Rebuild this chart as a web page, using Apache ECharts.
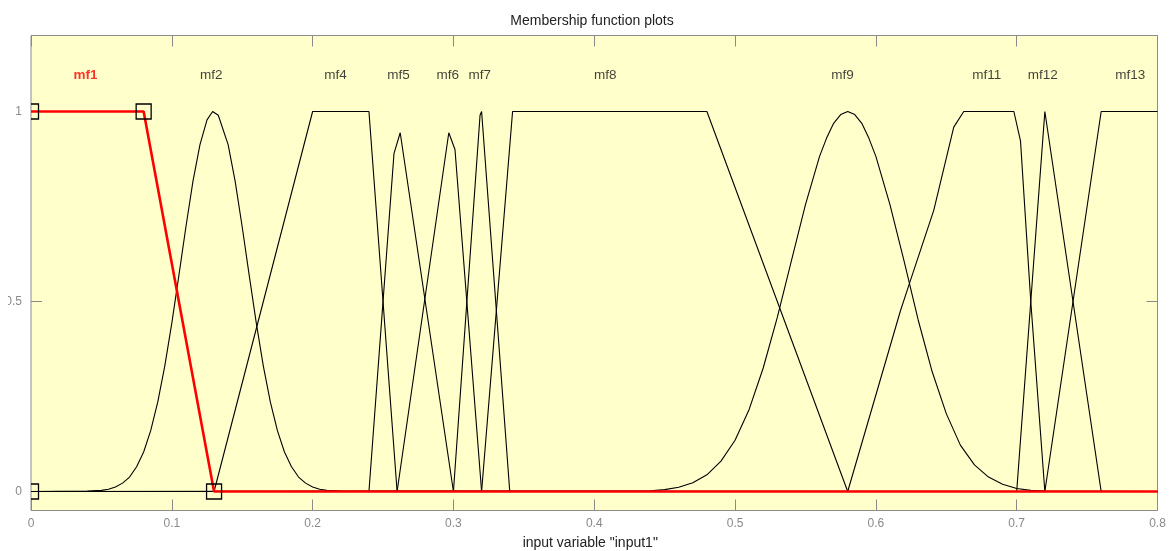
<!DOCTYPE html>
<html><head><meta charset="utf-8">
<script src="https://cdn.jsdelivr.net/npm/echarts@6/dist/echarts.min.js"></script>
<style>html,body{margin:0;padding:0;background:#fff}#c{width:1171px;height:551px}</style>
</head><body><div id="c"></div>
<script>
// ---- data ----
const xTicks = [0, 0.1, 0.2, 0.3, 0.4, 0.5, 0.6, 0.7, 0.8];
const yTicks = [0, 0.5, 1];

const mf1 = [[0, 1], [0.08, 1], [0.13, 0], [0.8, 0]];
const mf1Params = [[0, 0], [0, 1], [0.08, 1], [0.13, 0]];

const mf2 = [[0, 0], [0.04, 0.001], [0.05, 0.003], [0.055, 0.006], [0.06, 0.012], [0.065, 0.022],
  [0.07, 0.038], [0.075, 0.065], [0.08, 0.104], [0.085, 0.16], [0.09, 0.235], [0.095, 0.33],
  [0.1, 0.443], [0.105, 0.568], [0.11, 0.696], [0.115, 0.816], [0.12, 0.913], [0.125, 0.978],
  [0.129, 1], [0.133, 0.99], [0.14, 0.913], [0.145, 0.816], [0.15, 0.696], [0.155, 0.568],
  [0.16, 0.443], [0.165, 0.33], [0.17, 0.235], [0.175, 0.16], [0.18, 0.104], [0.185, 0.065],
  [0.19, 0.038], [0.195, 0.022], [0.2, 0.012], [0.205, 0.006], [0.21, 0.003], [0.22, 0.001], [0.8, 0]];
const mf4 = [[0, 0], [0.13, 0], [0.2, 1], [0.24, 1], [0.26, 0], [0.8, 0]];
const mf5 = [[0, 0], [0.24, 0], [0.2578, 0.89], [0.2622, 0.944], [0.3, 0], [0.8, 0]];
const mf6 = [[0, 0], [0.26, 0], [0.2967, 0.944], [0.3011, 0.9], [0.32, 0], [0.8, 0]];
const mf7 = [[0, 0], [0.3, 0], [0.3189, 0.99], [0.32, 1], [0.34, 0], [0.8, 0]];
const mf8 = [[0, 0], [0.32, 0], [0.342, 1], [0.48, 1], [0.58, 0], [0.8, 0]];
const mf9 = [[0, 0], [0.44, 0.002], [0.45, 0.005], [0.46, 0.011], [0.47, 0.023], [0.48, 0.044],
  [0.49, 0.08], [0.5, 0.135], [0.51, 0.216], [0.52, 0.325], [0.53, 0.458], [0.54, 0.607],
  [0.55, 0.755], [0.56, 0.882], [0.565, 0.93], [0.57, 0.969], [0.575, 0.992], [0.58, 1],
  [0.585, 0.992], [0.59, 0.969], [0.595, 0.93], [0.6, 0.882],
  [0.61, 0.755], [0.62, 0.607], [0.63, 0.452], [0.64, 0.315], [0.65, 0.205], [0.66, 0.122],
  [0.67, 0.07], [0.68, 0.038], [0.69, 0.019], [0.7, 0.008], [0.71, 0.003], [0.72, 0.001], [0.8, 0]];
const mf11 = [[0, 0], [0.58, 0], [0.6174, 0.475], [0.6245, 0.555], [0.6411, 0.74], [0.6553, 0.959],
  [0.6624, 1], [0.698, 1], [0.7027, 0.923], [0.71, 0.5], [0.72, 0], [0.8, 0]];
const mf12 = [[0, 0], [0.7, 0], [0.72, 1], [0.76, 0], [0.8, 0]];
const mf13 = [[0, 0], [0.72, 0], [0.76, 1], [0.8, 1]];

const mfNames = ['mf1', 'mf2', 'mf4', 'mf5', 'mf6', 'mf7', 'mf8', 'mf9', 'mf11', 'mf12', 'mf13'];
const mfLabelX = [0.0387, 0.128, 0.2163, 0.261, 0.296, 0.3187, 0.4078, 0.5763, 0.6787, 0.7185, 0.7807];
const labelRowY = 1.095;

// ---- chart ----
const chart = echarts.init(document.getElementById('c'), null, {renderer: 'canvas'});
const FONT = 'Arial, "Liberation Sans", sans-serif';
const GRAY = '#8a8a8a';

const blackCurves = [mf2, mf4, mf5, mf6, mf7, mf8, mf9, mf11, mf12, mf13];
const series = blackCurves.map(d => ({
  type: 'line', data: d, showSymbol: false, clip: true, silent: true,
  lineStyle: {color: '#000', width: 1.1}, z: 2
}));
series.push({
  type: 'line', data: mf1, showSymbol: false, clip: true, silent: true,
  lineStyle: {color: '#ff0000', width: 2.6}, z: 3
});
series.push({
  type: 'custom', data: mf1Params, clip: true, silent: true, z: 4,
  renderItem: function (params, api) {
    const p = api.coord([api.value(0), api.value(1)]);
    return {
      type: 'rect',
      shape: {x: p[0] - 7.5, y: p[1] - 7.5, width: 15, height: 15},
      style: {fill: 'none', stroke: '#000', lineWidth: 1.3}
    };
  }
});
series.push({
  type: 'scatter', symbolSize: 0, clip: false, silent: true, z: 5,
  data: mfNames.map((n, i) => ({
    name: n, value: [mfLabelX[i], labelRowY],
    label: i === 0 ? {color: '#ff0000', fontWeight: 'bold'} : {}
  })),
  label: {show: true, position: 'inside', formatter: '{b}', color: '#111',
    fontSize: 13.5, fontFamily: FONT}
});

const fmt = v => String(Math.round(v * 10) / 10);

chart.setOption({
  animation: false,
  backgroundColor: '#ffffff',
  title: {
    text: 'Membership function plots', left: 587, top: 9, textAlign: 'center',
    textStyle: {fontSize: 14, fontWeight: 'normal', color: '#222', fontFamily: FONT}
  },
  grid: {
    left: 31, right: 13.5, top: 35.5, bottom: 40.5, show: true,
    containLabel: false, outerBoundsMode: 'none',
    backgroundColor: '#ffffcc', borderColor: '#8c8c8c', borderWidth: 1
  },
  graphic: [{
    type: 'rect', left: 0, top: 290, z: 100, silent: true,
    shape: {width: 8, height: 20}, style: {fill: '#ffffff'}
  }],
  xAxis: [{
    type: 'value', min: 0, max: 0.8, position: 'bottom',
    name: 'input variable "input1"', nameLocation: 'middle', nameGap: 26,
    nameTextStyle: {fontSize: 14, color: '#222', fontFamily: FONT, padding: [0, 8, 0, 0]},
    axisLine: {show: false, onZero: false},
    axisTick: {show: true, inside: true, length: 11, customValues: xTicks, lineStyle: {color: GRAY}},
    axisLabel: {customValues: xTicks, formatter: fmt, margin: 7, fontSize: 12, color: GRAY, fontFamily: FONT},
    splitLine: {show: false}
  }, {
    type: 'value', min: 0, max: 0.8, position: 'top',
    axisLine: {show: false, onZero: false},
    axisTick: {show: true, inside: true, length: 11, customValues: xTicks, lineStyle: {color: GRAY}},
    axisLabel: {show: false}, splitLine: {show: false}
  }],
  yAxis: [{
    type: 'value', min: -0.05, max: 1.2, position: 'left',
    axisLine: {show: false, onZero: false},
    axisTick: {show: true, inside: true, length: 11, customValues: yTicks, lineStyle: {color: GRAY}},
    axisLabel: {customValues: yTicks, formatter: fmt, margin: 9, fontSize: 12, color: GRAY, fontFamily: FONT},
    splitLine: {show: false}
  }, {
    type: 'value', min: -0.05, max: 1.2, position: 'right',
    axisLine: {show: false, onZero: false},
    axisTick: {show: true, inside: true, length: 11, customValues: yTicks, lineStyle: {color: GRAY}},
    axisLabel: {show: false}, splitLine: {show: false}
  }],
  series: series
});
</script></body></html>
